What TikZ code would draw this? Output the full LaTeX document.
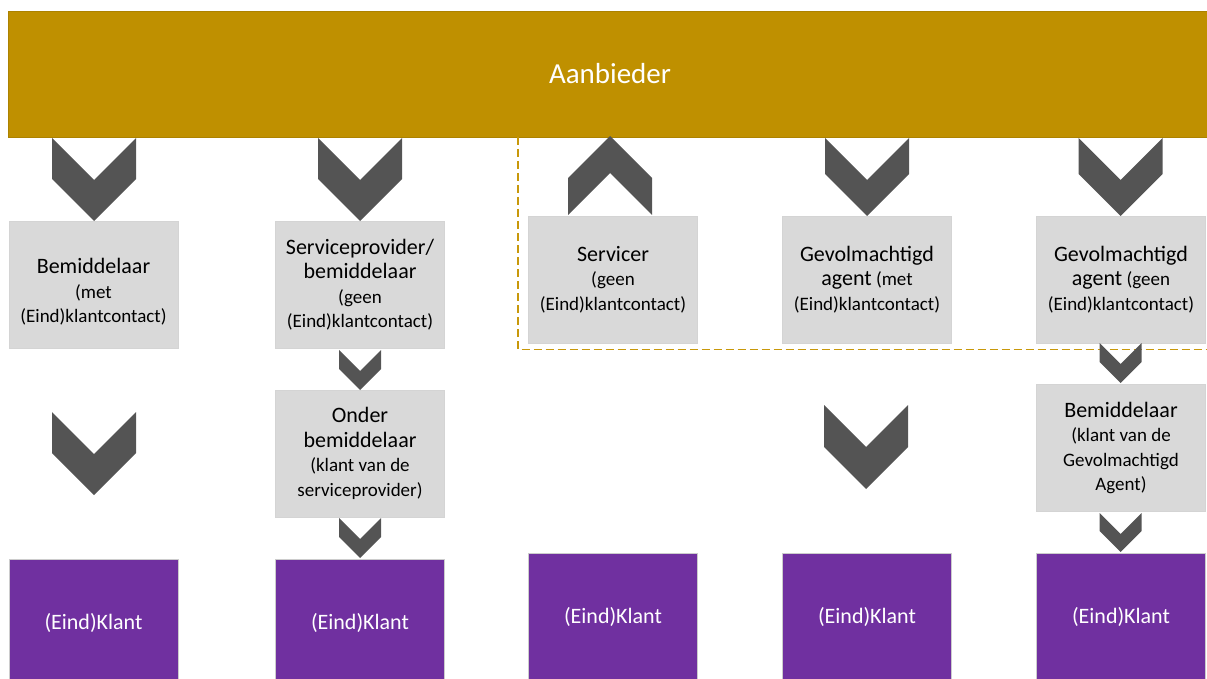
\documentclass[tikz,border=0pt]{standalone}
\usepackage{fontspec}
\setmainfont{Carlito}
\usetikzlibrary{calc}
\definecolor{gold}{HTML}{BF9000}
\definecolor{chevgray}{HTML}{545454}
\definecolor{purp}{HTML}{7030A0}
\definecolor{boxgray}{HTML}{D9D9D9}
\definecolor{dashgold}{HTML}{C8980A}
\newcommand\lgf{\fontsize{22}{26.5}\selectfont}
\newcommand\smf{\fontsize{19}{24.5}\selectfont}
% down chevron: x centre, top y, half width, side depth
\newcommand\chevdown[4]{\fill[chevron] ({#1-#3},#2) -- (#1,{#2+#3}) -- ({#1+#3},#2) -- ({#1+#3},{#2+#4}) -- (#1,{#2+#4+#3}) -- ({#1-#3},{#2+#4}) -- cycle;}
% up chevron: x centre, bottom y, half width, side depth
\newcommand\chevup[4]{\fill[chevron] ({#1-#3},#2) -- (#1,{#2-#3}) -- ({#1+#3},#2) -- ({#1+#3},{#2-#4}) -- (#1,{#2-#4-#3}) -- ({#1-#3},{#2-#4}) -- cycle;}
\begin{document}
\begin{tikzpicture}[x=1pt,y=-1pt,
  graybox/.style={fill=boxgray, draw=black!17, line width=0.6pt, minimum width=169pt, minimum height=127pt, inner sep=0pt, align=center, font=\smf, text=black},
  klantbox/.style={fill=purp, draw=black!20, line width=0.6pt, minimum width=169pt, minimum height=127pt, inner sep=0pt, text=white, font=\lgf},
  chevron/.style={fill=chevgray},
  dashline/.style={draw=dashgold, line width=1.1pt, dash pattern=on 8pt off 4pt}]
\useasboundingbox (0,0) rectangle (1207,679);
\clip (0,0) rectangle (1207,679);

% top bar
\node (top) [fill=gold, draw=gold!90!black, line width=0.6pt, minimum width=1204pt, minimum height=126pt, inner sep=0pt, text=white, font=\fontsize{29}{34}\selectfont] at (610,74) {Aanbieder};

% dashed grouping line
\coordinate (d1) at (518,137);
\coordinate (d2) at (518,349.5);
\coordinate (d3) at (1212,349.5);
\draw[dashline] (d1) -- (d2) -- (d3);

% row 1 boxes
\node (b1) [graybox] at (93.5,284.5) {\rule{0pt}{30pt}{\lgf Bemiddelaar}\\(met\\(Eind)klantcontact)};
\node (b2) [graybox] at (360,284.5) {{\lgf Serviceprovider/}\\{\lgf bemiddelaar}\\(geen\\(Eind)klantcontact)};
\node (b3) [graybox] at (613,279.5) {{\lgf Servicer}\\(geen\\(Eind)klantcontact)};
\node (b4) [graybox] at (867,279.5) {{\lgf Gevolmachtigd}\\{\lgf agent} (met\\(Eind)klantcontact)};
\node (b5) [graybox] at (1121,279.5) {{\lgf Gevolmachtigd}\\{\lgf agent} (geen\\(Eind)klantcontact)};

% row 2 boxes
\node (c2) [graybox] at (360,453.5) {{\lgf Onder}\\{\lgf bemiddelaar}\\(klant van de\\serviceprovider)};
\node (c5) [graybox] at (1121,448) {{\lgf Bemiddelaar}\\(klant van de\\Gevolmachtigd\\Agent)};

% end customers
\node (k1) [klantbox] at (93.5,623) {(Eind)Klant};
\node (k2) [klantbox] at (360,623) {(Eind)Klant};
\node (k3) [klantbox] at (613,617) {(Eind)Klant};
\node (k4) [klantbox] at (867,617) {(Eind)Klant};
\node (k5) [klantbox] at (1121,617) {(Eind)Klant};

% chevrons
\chevdown{94}{138}{42}{41}
\chevdown{94}{412}{42}{41}
\chevdown{360}{138}{42}{41}
\chevdown{360}{350}{21}{19}
\chevdown{360}{518}{21}{19}
\chevup{610}{215}{42}{37}
\chevdown{867}{138}{42}{36}
\chevdown{866}{405}{42}{42}
\chevdown{1120.5}{138}{42}{36}
\chevdown{1120.5}{343}{21}{19}
\chevdown{1120.5}{513}{21}{18}
\end{tikzpicture}
\end{document}
